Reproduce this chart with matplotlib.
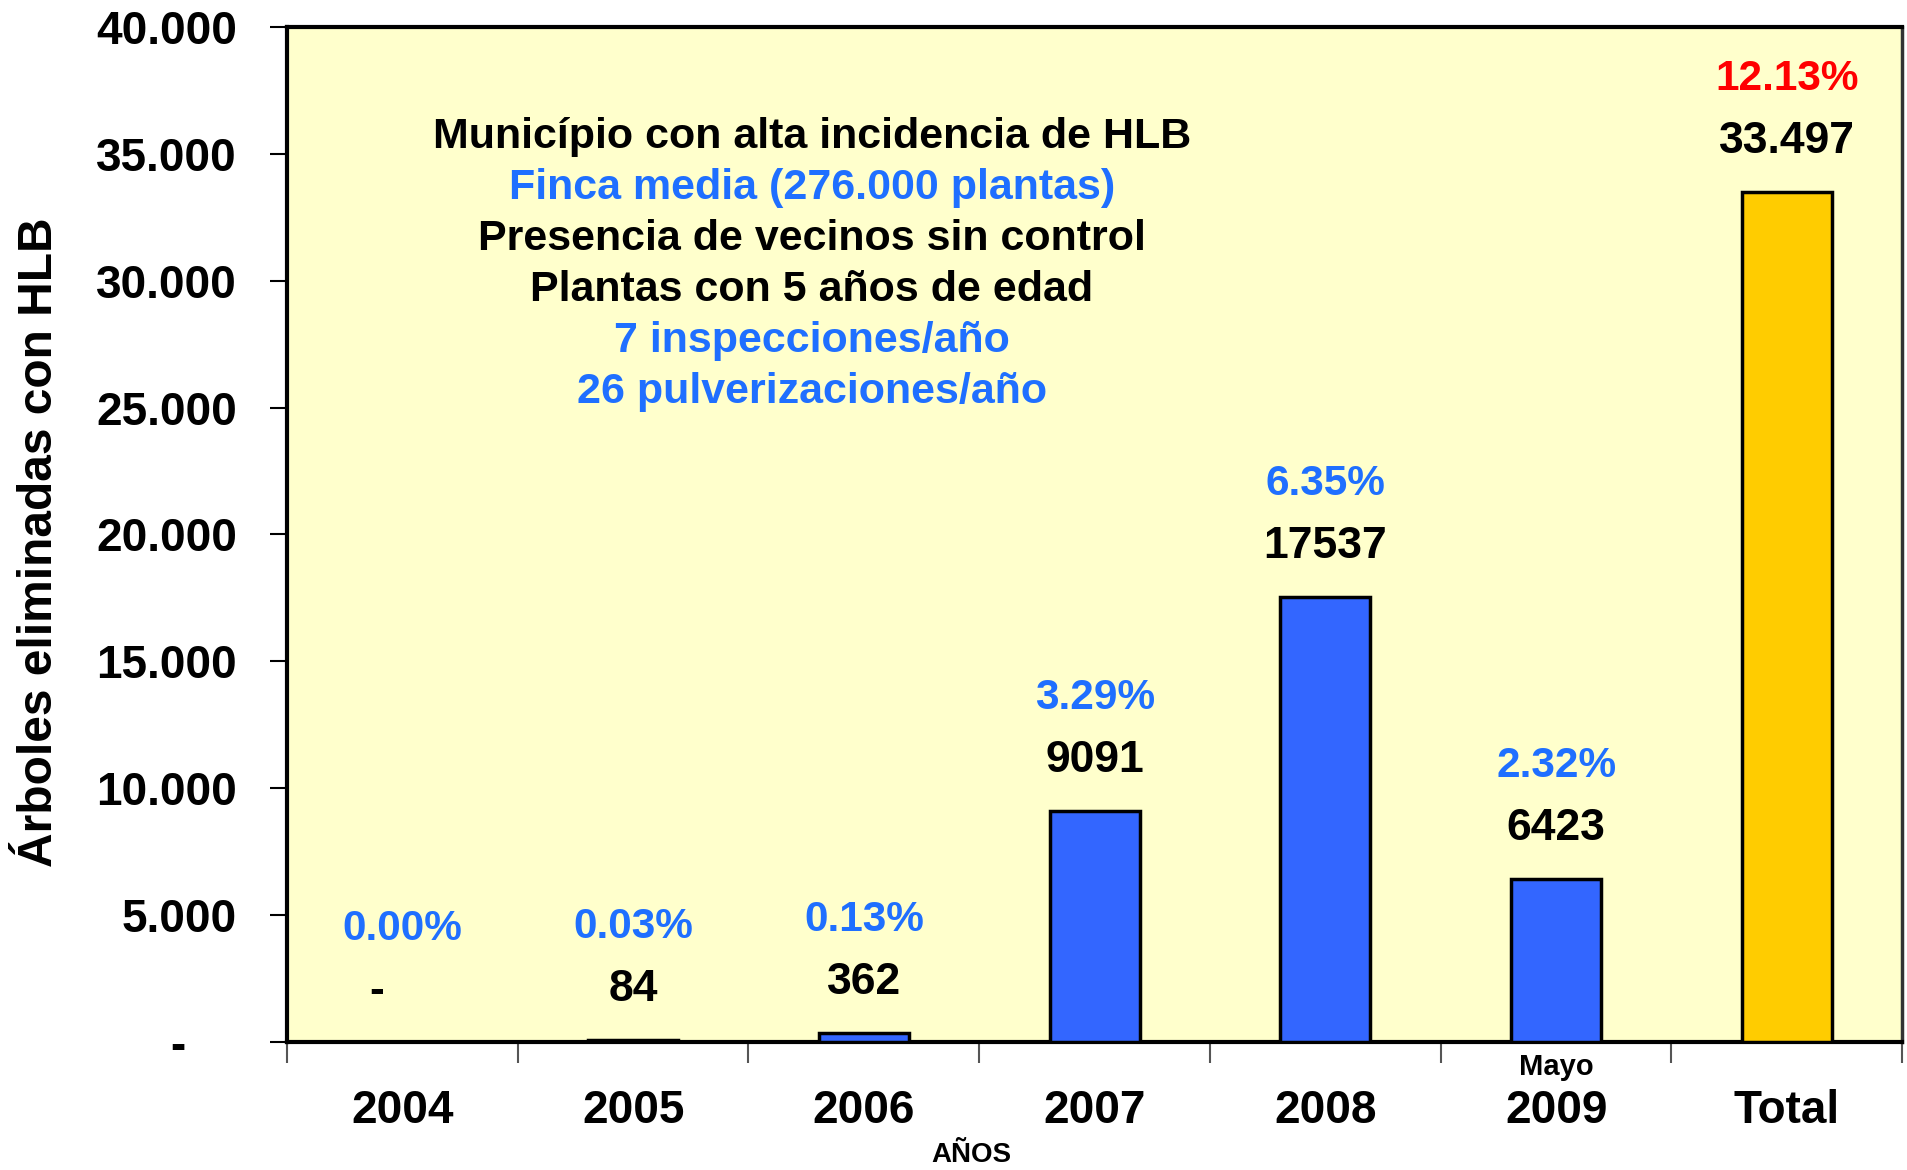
import matplotlib
matplotlib.use("Agg")
import matplotlib.pyplot as plt
import numpy as np

# datos
anios = ["2004", "2005", "2006", "2007", "2008", "2009", "Total"]
arboles = [0, 84, 362, 9091, 17537, 6423, 33497]
etiquetas_valor = ["-    ", "84", "362", "9091", "17537", "6423", "33.497"]
porcentajes = ["0.00%", "0.03%", "0.13%", "3.29%", "6.35%", "2.32%", "12.13%"]
y_ticks = [0, 5000, 10000, 15000, 20000, 25000, 30000, 35000, 40000]
y_tick_labels = ["-    ", "5.000", "10.000", "15.000", "20.000", "25.000",
                 "30.000", "35.000", "40.000"]
lineas_texto = [
    ("Município con alta incidencia de HLB", "black"),
    ("Finca media (276.000 plantas)", "#1F6FFF"),
    ("Presencia de vecinos sin control", "black"),
    ("Plantas con 5 años de edad", "black"),
    ("7 inspecciones/año", "#1F6FFF"),
    ("26 pulverizaciones/año", "#1F6FFF"),
]

AZUL = "#3366FF"
AMARILLO = "#FFCC00"
AZUL_TEXTO = "#1F6FFF"

plt.rcParams['font.family'] = ['Liberation Sans', 'DejaVu Sans']
plt.rcParams['font.weight'] = 'bold'

fig = plt.figure(figsize=(19.07, 11.70), dpi=100)
ax = fig.add_axes([0.1505, 0.1094, 0.847, 0.8676])
ax.set_facecolor("#FFFFCC")

x = np.arange(len(anios))
colores = [AZUL] * (len(anios) - 1) + [AMARILLO]
ax.bar(x, arboles, width=0.39, color=colores, edgecolor="black",
       linewidth=2.5, zorder=3)

# etiquetas sobre las barras
for i, v in enumerate(arboles):
    ax.text(x[i], v + 2000, etiquetas_valor[i], ha="center", va="center",
            fontsize=32, fontweight="bold", color="black")
    color_pct = "#FF0000" if anios[i] == "Total" else AZUL_TEXTO
    ax.text(x[i], v + 4450, porcentajes[i], ha="center", va="center",
            fontsize=30.5, fontweight="bold", color=color_pct)

# bloque de texto
for j, (linea, color) in enumerate(lineas_texto):
    ax.text(0.325, 0.892 - j * 0.0503, linea, transform=ax.transAxes,
            ha="center", va="center", fontsize=31, fontweight="bold",
            color=color)

ax.set_xlim(-0.5, len(anios) - 0.5)
ax.set_ylim(0, 40000)
ax.set_yticks(y_ticks)
ax.set_yticklabels(y_tick_labels, fontsize=33, fontweight="bold")
ax.tick_params(axis="y", direction="out", length=12, width=1.5, pad=24)

ax.set_xticks(x)
ax.set_xticklabels(anios, fontsize=33, fontweight="bold")
ax.tick_params(axis="x", length=0, pad=34)
ax.set_xticks(np.arange(-0.5, len(anios), 1.0), minor=True)
ax.tick_params(axis="x", which="minor", direction="out", length=15,
               width=1.5, color="#555555")

for lado in ["left", "bottom", "top"]:
    ax.spines[lado].set_linewidth(3)
ax.spines["right"].set_linewidth(2.5)
ax.spines["right"].set_color("#333333")

ax.set_ylabel("Árboles eliminadas con HLB", fontsize=34.5, fontweight="bold")
ax.yaxis.set_label_coords(-0.139, 0.4926)

ax.text(5, -0.025, "Mayo", transform=ax.get_xaxis_transform(),
        ha="center", va="center", fontsize=21, fontweight="bold")
fig.text(971 / 1907, 1 - 1155 / 1170, "AÑOS", ha="center", va="center",
         fontsize=20, fontweight="bold")

fig.savefig("out.png", dpi=100)
